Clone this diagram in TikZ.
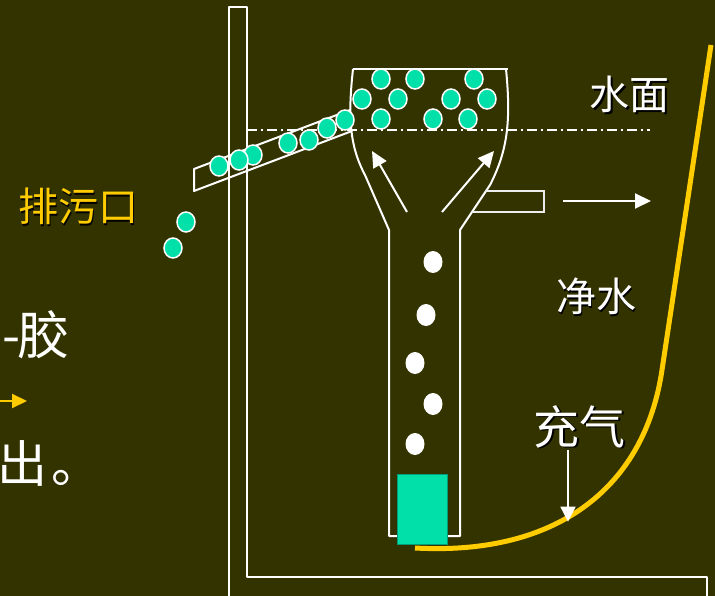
\documentclass[tikz,border=0pt]{standalone}
\usepackage{fontspec}
\newfontfamily\cjk{Noto Sans CJK SC}
\usetikzlibrary{arrows.meta}
\definecolor{board}{HTML}{333300}
\definecolor{floc}{HTML}{00E0A8}
\definecolor{pipeyellow}{HTML}{FFCC00}
% text with a small black drop shadow
\newcommand\shadowed[1]{\rlap{\kern1.8pt\raisebox{-1.8pt}{\color{black}#1}}#1}
\tikzset{
	wall/.style={white, line width=2pt, line join=round},
	flocdot/.style={fill=floc, draw=white, line width=1.5pt},
	flow/.style={white, line width=2pt, -{Triangle[length=16pt,width=15pt]}},
	lbl/.style={inner sep=0pt, text=white, font=\cjk\fontsize{40}{44}\selectfont},
}
\begin{document}
\begin{tikzpicture}[x=1pt, y=-1pt]
	%frame
	\fill[board] (0,0) rectangle (715,596);
	\useasboundingbox (0,0) rectangle (715,596);
	\clip (0,0) rectangle (715,596);
	%tank wall
	\draw[wall] (229,600) -- (229,7) -- (247,7) -- (247,577) -- (707,577) -- (707,600);
	%water surface
	\draw[white, line width=1.5pt, dash pattern=on 10pt off 4pt on 2pt off 4pt] (247,130) -- (650,130);
	%sludge chute
	\draw[wall] (350,110) -- (194,169) -- (194,191) -- (352,131);
	%funnel and riser
	\draw[wall] (353,69) -- (508,69);
	\draw[wall] (353,69) .. controls (348,115) and (349,145) .. (365,175) -- (389,230)
		-- (389,536) -- (460,536) -- (460,230) -- (490,185)
		.. controls (508,150) and (511,120) .. (506,69);
	%outlet pipe
	\draw[white!85!gray, line width=1.5pt] (485,191) -- (544,191) -- (544,212) -- (473,212);
	%diffuser
	\filldraw[fill=floc, draw=floc!70!black, line width=0.5pt] (397,474) rectangle (447,544);
	%air bubbles
	\foreach \x/\y in {433/262, 426/315, 415/363, 433/404, 415/444}
	\fill[white] (\x,\y) ellipse [x radius=9.5pt, y radius=11pt];
	%flocs
	\foreach \x/\y in {
		381/79, 415/79, 474/79,
		362/99, 398/99, 451/99, 487/99,
		381/119, 433/119, 468/119,
		345/120, 327/128, 309/140, 288/143,
		253/155, 239/160, 219/166,
		186/222, 173/248}
	\filldraw[flocdot] (\x,\y) ellipse [x radius=9pt, y radius=10pt];
	%flow arrows
	\draw[flow] (407,212) -- (372,151);
	\draw[flow] (442,212) -- (494,151);
	\draw[flow] (563,201) -- (651,201);
	\draw[pipeyellow, line width=2pt, -{Triangle[length=15pt,width=14pt]}] (-2,401) -- (27,401);
	%air hose
	\draw[pipeyellow, line width=5pt, line join=round] (415,548) .. controls (560,556) and (645,485) .. (662,370) -- (711,45);
	%labels
	\node[lbl] (surface label) at (629.5,95) {\shadowed{水面}};
	\node[lbl, text=pipeyellow] (drain label) at (78,207) {\shadowed{排污口}};
	\node[lbl] (clean label) at (596,297.5) {\shadowed{净水}};
	\node[lbl, font=\cjk\fontsize{46}{50}\selectfont] (air label) at (579.5,427.5) {\shadowed{充气}};
	\coordinate (air tip) at (568,521.7);
	\draw[white, line width=1.5pt, -{Triangle[length=15pt,width=15pt]}] (air tip |- air label.south) -- (air tip);
	\node[lbl, font=\cjk\fontsize{52}{56}\selectfont, anchor=east] (glue text) at (70,335) {-\kern-3pt胶};
	\node[lbl, font=\cjk\fontsize{50}{54}\selectfont, anchor=west] (out text) at (-3,463) {出\kern4pt。};
\end{tikzpicture}
\end{document}
